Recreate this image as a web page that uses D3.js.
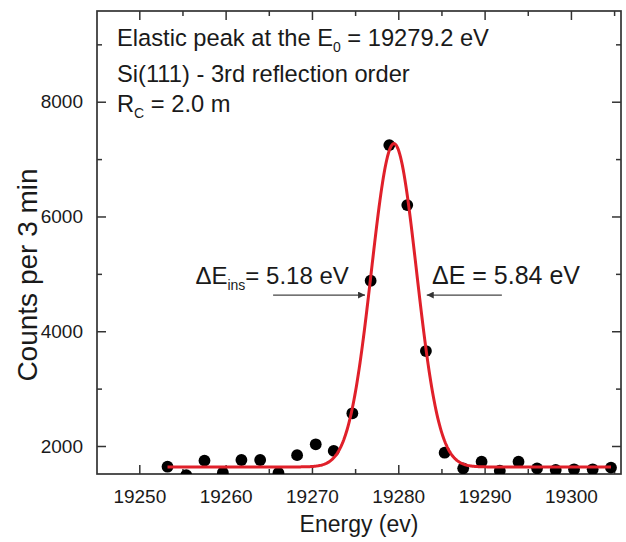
<!DOCTYPE html>
<html>
<head>
<meta charset="utf-8">
<script src="https://cdn.jsdelivr.net/npm/d3@7"></script>
<style>
  body { margin: 0; background: #fff; }
  svg text { font-family: "Liberation Sans", Arial, sans-serif; fill: #1a1a1a; }
</style>
</head>
<body>
<svg id="chart" width="626" height="542"></svg>
<script>
// Measured spectrum: energy (eV) and counts per 3 min
const energy = [19253.27, 19255.44, 19257.55, 19259.68, 19261.83, 19264.00, 19266.12, 19268.28,
                19270.44, 19272.52, 19274.68, 19276.80, 19278.96, 19281.04, 19283.20, 19285.37,
                19287.52, 19289.65, 19291.76, 19293.93, 19296.08, 19298.24, 19300.36, 19302.52, 19304.64];
const counts = [1639, 1490, 1744, 1535, 1756, 1756, 1530, 1840,
                2030, 1915, 2570, 4880, 7244, 6199, 3655, 1883,
                1611, 1726, 1570, 1726, 1611, 1582, 1594, 1594, 1622];

// Gaussian fit of the elastic peak
const fitCenter = 19279.5;   // eV
const fitFwhm = 6.15;        // eV
const fitPeak = 7270;        // counts at the maximum
const fitBase = 1635;        // flat background

// Axis ticks
const xMajorTicks = [19250, 19260, 19270, 19280, 19290, 19300];
const xMinorTicks = [19255, 19265, 19275, 19285, 19295, 19305];
const yMajorTicks = [2000, 4000, 6000, 8000];
const yMinorTicks = [3000, 5000, 7000, 9000];

// Annotation anchors in data units
const fwhmLevel = 4630;
const insArrow = [19265.5, 19276.15];
const measArrow = [19292.0, 19283.3];
const insLabelAt = 19256.5;
const measLabelAt = 19283.9;

const margin = { top: 11, right: 5, bottom: 68, left: 97 };
const W = 626, H = 542;
const w = W - margin.left - margin.right;
const h = H - margin.top - margin.bottom;

const svg = d3.select("#chart");
const g = svg.append("g").attr("transform", `translate(${margin.left},${margin.top})`);

const x = d3.scaleLinear().domain([19245.1, 19305.8]).range([0, w]);
const y = d3.scaleLinear().domain([1512, 9581]).range([h, 0]);

const defs = svg.append("defs");
defs.append("clipPath").attr("id", "plotClip")
  .append("rect").attr("width", w).attr("height", h);
defs.append("marker").attr("id", "arrowHead")
  .attr("viewBox", "0 0 10 10").attr("refX", 10).attr("refY", 5)
  .attr("markerWidth", 10).attr("markerHeight", 7).attr("markerUnits", "userSpaceOnUse")
  .attr("orient", "auto")
  .append("path").attr("d", "M0,0 L10,5 L0,10 Z").attr("fill", "#333");

const axisColor = "#333";
const majorLen = 9, minorLen = 5;

function styleAxis(sel) {
  sel.select(".domain").remove();
  sel.selectAll(".tick line").attr("stroke", axisColor).attr("stroke-width", 1.5);
  sel.selectAll(".tick text").attr("font-size", 19).attr("fill", "#1a1a1a");
}

// Bottom axis (inward ticks)
g.append("g").attr("transform", `translate(0,${h})`)
  .call(d3.axisBottom(x).tickValues(xMajorTicks).tickFormat(d3.format("d")).tickSizeInner(-majorLen).tickSizeOuter(0).tickPadding(16))
  .call(styleAxis);
g.append("g").attr("transform", `translate(0,${h})`)
  .call(d3.axisBottom(x).tickValues(xMinorTicks).tickFormat("").tickSizeInner(-minorLen).tickSizeOuter(0))
  .call(styleAxis);
// Top axis mirrors
g.append("g")
  .call(d3.axisTop(x).tickValues(xMajorTicks).tickFormat("").tickSizeInner(-majorLen).tickSizeOuter(0))
  .call(styleAxis);
g.append("g")
  .call(d3.axisTop(x).tickValues(xMinorTicks).tickFormat("").tickSizeInner(-minorLen).tickSizeOuter(0))
  .call(styleAxis);
// Left axis
g.append("g")
  .call(d3.axisLeft(y).tickValues(yMajorTicks).tickFormat(d3.format("d")).tickSizeInner(-majorLen).tickSizeOuter(0).tickPadding(14))
  .call(styleAxis);
g.append("g")
  .call(d3.axisLeft(y).tickValues(yMinorTicks).tickFormat("").tickSizeInner(-minorLen).tickSizeOuter(0))
  .call(styleAxis);
// Right axis mirrors
g.append("g").attr("transform", `translate(${w},0)`)
  .call(d3.axisRight(y).tickValues(yMajorTicks).tickFormat("").tickSizeInner(-majorLen).tickSizeOuter(0))
  .call(styleAxis);
g.append("g").attr("transform", `translate(${w},0)`)
  .call(d3.axisRight(y).tickValues(yMinorTicks).tickFormat("").tickSizeInner(-minorLen).tickSizeOuter(0))
  .call(styleAxis);

// Frame
g.append("rect").attr("width", w).attr("height", h)
  .attr("fill", "none").attr("stroke", axisColor).attr("stroke-width", 1.7);

// Data points
const plot = g.append("g").attr("clip-path", "url(#plotClip)");
plot.selectAll("circle").data(energy).join("circle")
  .attr("cx", (d) => x(d))
  .attr("cy", (d, i) => y(counts[i]))
  .attr("r", 5.9)
  .attr("fill", "#000");

// Fit curve
const sigma = fitFwhm / (2 * Math.sqrt(2 * Math.log(2)));
const fitX = d3.range(energy[0], energy[energy.length - 1], 0.1).concat([energy[energy.length - 1]]);
const fitLine = d3.line()
  .x((d) => x(d))
  .y((d) => y(fitBase + (fitPeak - fitBase) * Math.exp(-((d - fitCenter) ** 2) / (2 * sigma * sigma))));
plot.append("path").datum(fitX)
  .attr("d", fitLine)
  .attr("fill", "none").attr("stroke", "#e0202a").attr("stroke-width", 3);

// Header text
const header = g.append("g").attr("font-size", 23.7);
const l1 = header.append("text").attr("x", 20).attr("y", 35);
l1.append("tspan").text("Elastic peak at the E");
l1.append("tspan").attr("font-size", 14).attr("dy", 6).text("0");
l1.append("tspan").attr("dy", -6).text(" = 19279.2 eV");
header.append("text").attr("x", 20).attr("y", 71).text("Si(111) - 3rd reflection order");
const l3 = header.append("text").attr("x", 20).attr("y", 101);
l3.append("tspan").text("R");
l3.append("tspan").attr("font-size", 14).attr("dy", 6).text("C");
l3.append("tspan").attr("dy", -6).text(" = 2.0 m");

// FWHM annotations
g.append("line")
  .attr("x1", x(insArrow[0])).attr("x2", x(insArrow[1]))
  .attr("y1", y(fwhmLevel)).attr("y2", y(fwhmLevel))
  .attr("stroke", "#444").attr("stroke-width", 1.2).attr("marker-end", "url(#arrowHead)");
g.append("line")
  .attr("x1", x(measArrow[0])).attr("x2", x(measArrow[1]))
  .attr("y1", y(fwhmLevel)).attr("y2", y(fwhmLevel))
  .attr("stroke", "#444").attr("stroke-width", 1.2).attr("marker-end", "url(#arrowHead)");

const insText = g.append("text").attr("font-size", 24)
  .attr("x", x(insLabelAt)).attr("y", y(fwhmLevel) - 11);
insText.append("tspan").text("ΔE");
insText.append("tspan").attr("font-size", 14).attr("dy", 6).text("ins");
insText.append("tspan").attr("dy", -6).text("= 5.18 eV");

g.append("text").attr("font-size", 25)
  .attr("x", x(measLabelAt)).attr("y", y(fwhmLevel) - 11)
  .text("ΔE = 5.84 eV");

// Axis titles
svg.append("text")
  .attr("x", margin.left + w / 2).attr("y", 532)
  .attr("text-anchor", "middle").attr("font-size", 23)
  .text("Energy (ev)");
svg.append("text")
  .attr("transform", `translate(37,275) rotate(-90)`)
  .attr("text-anchor", "middle").attr("font-size", 28)
  .text("Counts per 3 min");
</script>
</body>
</html>
